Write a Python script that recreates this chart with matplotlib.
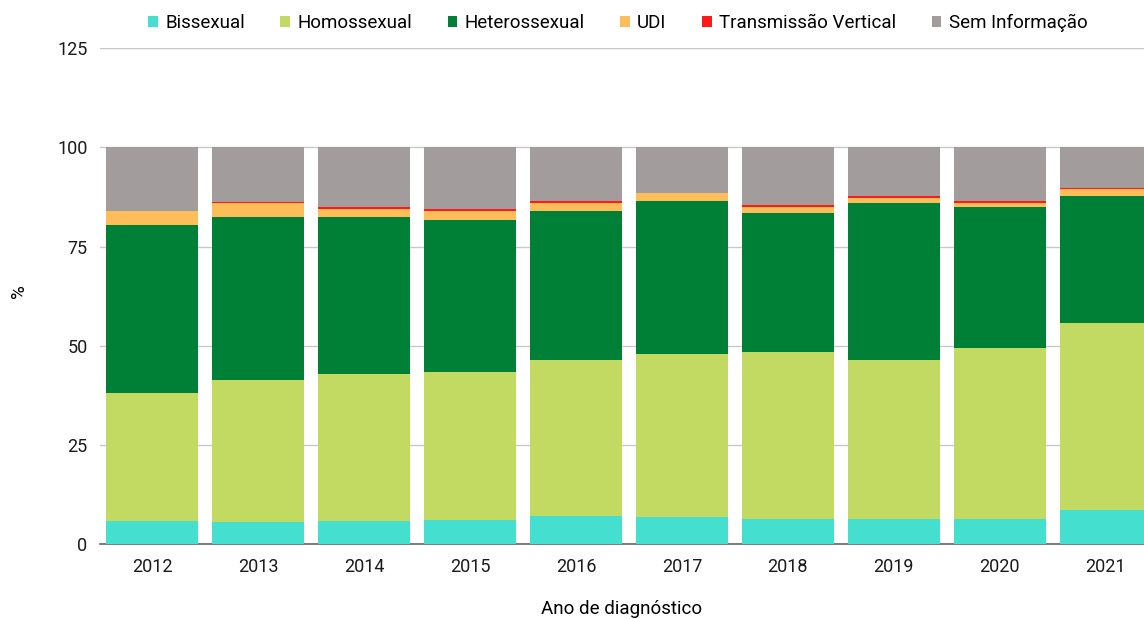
import numpy as np
from matplotlib import pyplot as plt

plt.rcParams['font.family'] = ['Roboto', 'DejaVu Sans']

anos = ['2012', '2013', '2014', '2015', '2016', '2017', '2018', '2019', '2020', '2021']

# valores em %
bissexual = [5.8, 5.5, 5.8, 6.0, 7.1, 6.9, 6.3, 6.3, 6.3, 8.6]
homossexual = [32.2, 35.8, 37.0, 37.3, 39.2, 41.0, 42.1, 40.0, 43.1, 47.1]
heterossexual = [42.4, 41.1, 39.6, 38.3, 37.8, 38.7, 35.0, 39.6, 35.5, 32.0]
udi = [3.7, 3.5, 2.2, 2.5, 2.0, 1.8, 1.5, 1.3, 1.0, 1.7]
transmissao_vertical = [0.0, 0.3, 0.5, 0.5, 0.3, 0.0, 0.5, 0.5, 0.5, 0.3]
sem_informacao = [15.9, 13.8, 14.9, 15.4, 13.6, 11.6, 14.6, 12.3, 13.6, 10.3]

series = [
    ('Bissexual', bissexual, '#45dfcf'),
    ('Homossexual', homossexual, '#c2da62'),
    ('Heterossexual', heterossexual, '#007f37'),
    ('UDI', udi, '#fdbd59'),
    ('Transmissão Vertical', transmissao_vertical, '#ff1a1a'),
    ('Sem Informação', sem_informacao, '#a39c9c'),
]

fig = plt.figure(figsize=(11.44, 6.19), dpi=100)
ax = fig.add_axes([0.0874, 0.121, 0.9126, 0.801])

x = np.arange(len(anos))
base = np.zeros(len(anos))
for nome, valores, cor in series:
    ax.bar(x, valores, bottom=base, width=0.87, color=cor, label=nome, zorder=3)
    base += np.array(valores)

ax.set_xlim(-0.49, 9.36)
ax.set_ylim(0, 125)
ax.set_yticks([0, 25, 50, 75, 100, 125])
ax.set_xticks(x)
ax.set_xticklabels(anos)
ax.grid(axis='y', color='#c8c8c8', linewidth=1, zorder=0)

for lado in ['top', 'right', 'left']:
    ax.spines[lado].set_visible(False)
ax.spines['bottom'].set_color('#666666')
ax.spines['bottom'].set_linewidth(1.2)
ax.tick_params(axis='both', length=0, labelsize=13, colors='#1a1a1a')
ax.tick_params(axis='x', pad=10)
ax.tick_params(axis='y', pad=9)

ax.set_xlabel('Ano de diagnóstico', fontsize=13.5, labelpad=17)
ax.set_ylabel('%', fontsize=13.5)
ax.yaxis.set_label_coords(-0.069, 0.51)

fig.legend(loc='upper center', bbox_to_anchor=(0.54, 1.005), ncol=6, frameon=False,
           fontsize=13.5, handlelength=0.5, handleheight=0.5, handletextpad=0.4,
           columnspacing=1.9)

plt.savefig('out.png', dpi=100)
